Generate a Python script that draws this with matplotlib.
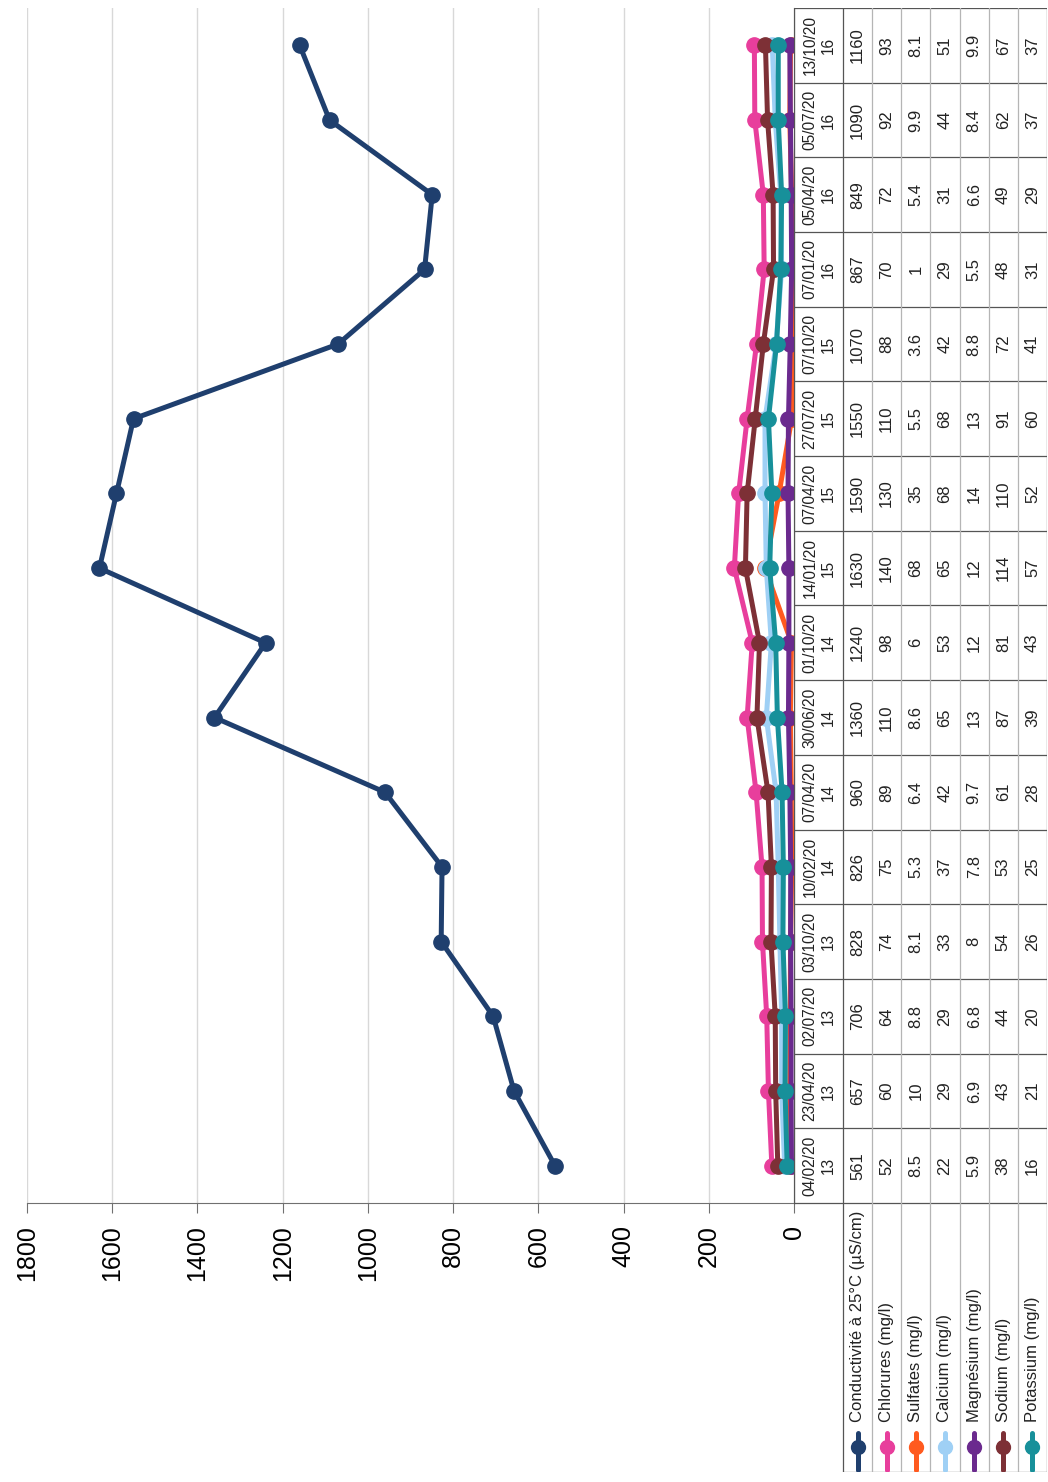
import matplotlib.pyplot as plt

plt.rcParams['font.family'] = ['Liberation Sans', 'DejaVu Sans']

# categories (two-level labels: date + number)
dates = ['04/02/20', '23/04/20', '02/07/20', '03/10/20', '10/02/20', '07/04/20', '30/06/20', '01/10/20',
         '14/01/20', '07/04/20', '27/07/20', '07/10/20', '07/01/20', '05/04/20', '05/07/20', '13/10/20']
years = [13, 13, 13, 13, 14, 14, 14, 14, 15, 15, 15, 15, 16, 16, 16, 16]

conductivite = [561, 657, 706, 828, 826, 960, 1360, 1240, 1630, 1590, 1550, 1070, 867, 849, 1090, 1160]
chlorures = [52, 60, 64, 74, 75, 89, 110, 98, 140, 130, 110, 88, 70, 72, 92, 93]
sulfates = [8.5, 10, 8.8, 8.1, 5.3, 6.4, 8.6, 6, 68, 35, 5.5, 3.6, 1, 5.4, 9.9, 8.1]
calcium = [22, 29, 29, 33, 37, 42, 65, 53, 65, 68, 68, 42, 29, 31, 44, 51]
magnesium = [5.9, 6.9, 6.8, 8, 7.8, 9.7, 13, 12, 12, 14, 13, 8.8, 5.5, 6.6, 8.4, 9.9]
sodium = [38, 43, 44, 54, 53, 61, 87, 81, 114, 110, 91, 72, 48, 49, 62, 67]
potassium = [16, 21, 20, 26, 25, 28, 39, 43, 57, 52, 60, 41, 31, 29, 37, 37]

series_names = ['Conductivité à 25°C (µS/cm)', 'Chlorures (mg/l)', 'Sulfates (mg/l)', 'Calcium (mg/l)',
                'Magnésium (mg/l)', 'Sodium (mg/l)', 'Potassium (mg/l)']
series_values = [conductivite, chlorures, sulfates, calcium, magnesium, sodium, potassium]
series_colors = ['#1f3f6e', '#e83e9c', '#ff5a1f', '#9fd0f5', '#6b2a8e', '#7d3036', '#17909a']

W, H = 1048, 1482
fig = plt.figure(figsize=(W / 100, H / 100), dpi=100, facecolor='white')


def rect(x0, y0, x1, y1):
    # pixel box (top-left origin) -> figure fraction
    return [x0 / W, 1 - y1 / H, (x1 - x0) / W, (y1 - y0) / H]


# plot area (chart is drawn rotated: values run right->left, categories bottom->top)
top_px, axis_px, zero_px, table_bottom = 8, 1203, 794, 1472
ax = fig.add_axes(rect(27, top_px, zero_px, axis_px))
n = len(dates)
pos = list(range(n))
for name, vals, col in zip(series_names, series_values, series_colors):
    ax.plot(vals, pos, color=col, lw=3.6, marker='o', ms=11, solid_capstyle='round')
ax.set_xlim(1800, 0)
ax.set_ylim(-0.5, n - 0.5)
ax.set_xticks(range(0, 1801, 200))
ax.tick_params(axis='x', direction='out', length=7, color='#707070', labelsize=18, pad=9,
               labelrotation=90)
ax.set_yticks([])
ax.grid(axis='x', color='#d8d8d8', lw=1)
ax.set_axisbelow(True)
for s in ['top', 'left']:
    ax.spines[s].set_visible(False)
ax.spines['bottom'].set_color('#707070')
ax.spines['right'].set_color('#555555')

# data table to the right
unit = (axis_px - top_px) / n
ybot = -0.5 - (table_bottom - axis_px) / unit
tx = fig.add_axes(rect(zero_px, top_px, 1047, table_bottom))
tx.set_xlim(0, 1047 - zero_px)
tx.set_ylim(ybot, n - 0.5)
tx.axis('off')
hw = 843 - zero_px
rw = (1047 - 843) / len(series_names)
right = 1047 - zero_px
dark, light = '#555555', '#b5b5b5'

for k in range(n + 1):
    tx.plot([0, right], [k - 0.5, k - 0.5], color=dark, lw=0.9)
tx.plot([0, 0], [-0.5, n - 0.5], color=dark, lw=0.9)
tx.plot([hw, hw], [ybot, n - 0.5], color=dark, lw=0.9)
tx.plot([right, right], [ybot, n - 0.5], color=dark, lw=0.9)
tx.plot([hw, right], [ybot, ybot], color=dark, lw=0.9)
for j in range(1, len(series_names)):
    tx.plot([hw + j * rw] * 2, [ybot, n - 0.5], color=light, lw=0.9)

for i in range(n):
    tx.text(hw / 2 + 1, i, f'{dates[i]}\n{years[i]}', rotation=90, ha='center', va='center',
            fontsize=11.2, linespacing=1.3, color='#222222')
    for j, vals in enumerate(series_values):
        tx.text(hw + rw * (j + 0.5), i, f'{vals[i]:g}', rotation=90, ha='center', va='center',
                fontsize=12, color='#222222')

# legend keys in the row headers
mk_y = -0.5 - (1447 - axis_px) / unit
ln0 = -0.5 - (1433 - axis_px) / unit
ln1 = -0.5 - (1470 - axis_px) / unit
lab_y = -0.5 - (1422 - axis_px) / unit
for j, (name, col) in enumerate(zip(series_names, series_colors)):
    xc = hw + rw * (j + 0.5)
    tx.plot([xc, xc], [ln0, ln1], color=col, lw=3.6, solid_capstyle='round')
    tx.plot([xc], [mk_y], marker='o', ms=10, color=col)
    tx.text(xc, lab_y, name, rotation=90, ha='center', va='bottom', fontsize=12, color='#222222')

plt.savefig('out.png', dpi=100, facecolor='white')
